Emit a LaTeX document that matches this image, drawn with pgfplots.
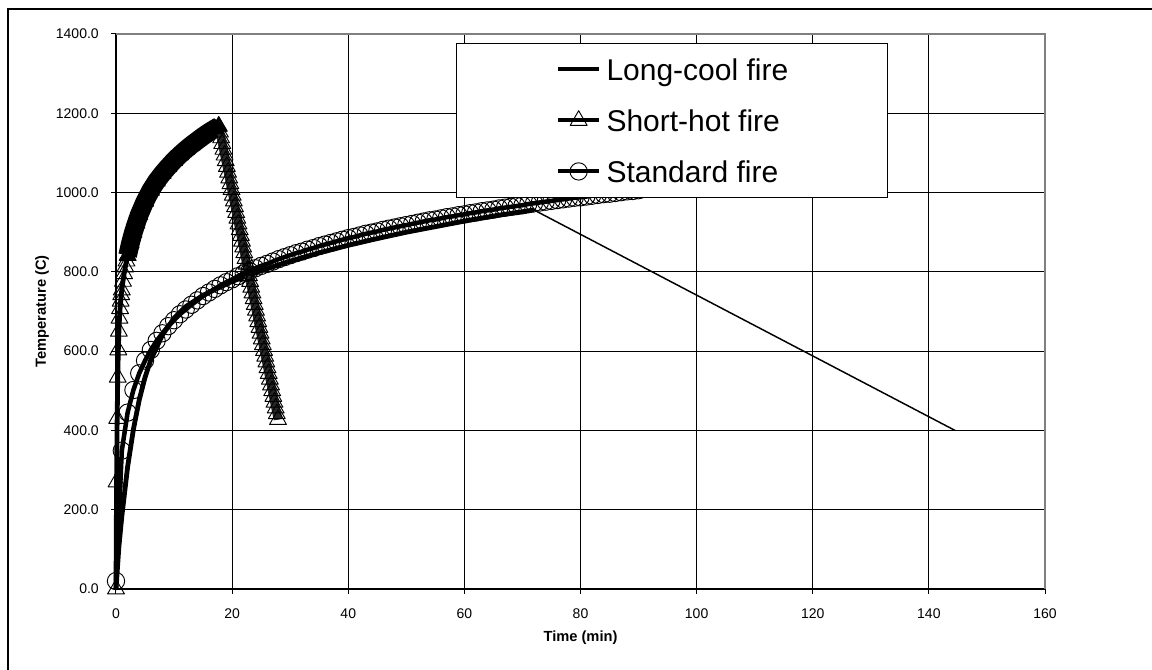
\documentclass[border=0pt]{standalone}
\usepackage{pgfplots}
\pgfplotsset{compat=1.18}
\usepackage{fontspec}
\setmainfont{Liberation Sans}
\begin{document}
\begin{tikzpicture}
\useasboundingbox (-87pt,-60.75pt) rectangle (777pt,441.75pt);
\begin{axis}[
  at={(0pt,0pt)}, anchor=south west,
  scale only axis, width=696.75pt, height=416.25pt,
  xmin=0, xmax=160, ymin=0, ymax=1400,
  xtick={0,20,...,160}, ytick={0,200,...,1400},
  axis x line*=bottom, axis y line*=left,
  axis line style={black, line width=0.75pt},
  grid=major, major grid style={black, line width=0.6pt},
  tick align=outside, major tick length=3.75pt,
  tick style={black, line width=0.75pt},
  clip=false,
  /pgf/number format/assume math mode=true,
  tick label style={font=\fontsize{10.5}{12}\selectfont},
  yticklabel style={/pgf/number format/fixed, /pgf/number format/fixed zerofill,
    /pgf/number format/precision=1, /pgf/number format/1000 sep={},
    anchor=east, inner sep=0pt, xshift=-9pt},
  xticklabel style={anchor=center, inner sep=0pt, yshift=-15pt},
  xlabel={Time (min)}, ylabel={Temperature (C)},
  every axis x label/.style={at={(rel axis cs:0.5,0)}, yshift=-36.75pt, anchor=center,
    font=\bfseries\fontsize{11}{13}\selectfont},
  every axis y label/.style={at={(rel axis cs:0,0.5)}, xshift=-55.5pt, rotate=90, anchor=center,
    font=\bfseries\fontsize{11}{13}\selectfont},
  legend style={at={(rel axis cs:0.36598,0.98378)}, anchor=north west,
    draw=black, line width=0.75pt, fill=white,
    inner xsep=74.75pt, inner ysep=10.7pt, row sep=20.75pt, column sep=4pt,
    font=\fontsize{22.5}{27}\selectfont,
    nodes={inner sep=0pt, text height=17pt, text depth=0.5pt},
    cells={anchor=west}},
  legend image code/.code={\draw[mark repeat=2,mark phase=2,#1,line width=3pt] plot coordinates {(0pt,0pt) (15.375pt,0pt) (30.75pt,0pt)};},
]
% Long-cool fire (heating)
\addplot[black, line width=3.6pt, line join=round] coordinates {
(0,0) (0.5,107) (1,183) (2,308) (3,403) (4,477) (5,534) (6,578) (8,641) (10,683)
(12,712) (15,741) (20,776) (25,803) (30,827) (35,848) (40,867) (45,884) (50,900)
(55,914) (60,928) (66,943) (72,956)};
\addlegendentry{Long-cool fire}
% Long-cool fire (decay)
\addplot[black, line width=1.1pt, forget plot] coordinates {(72,956) (144.5,400)};
% Short-hot fire
\addplot[black, line width=3.6pt, line join=round, mark=triangle, mark size=7.3pt,
  mark options={solid, line width=0.7pt}] coordinates {
(0,0) (0.1,270) (0.2,430) (0.3,534) (0.4,603) (0.5,650) (0.6,683) (0.7,707) (0.8,726)
(0.9,742) (1.0,754) (1.2,776) (1.4,795) (1.6,812) (1.8,827) (2.0,841) (2.5,873)
(3,900) (3.5,923) (4,944) (5,978) (6,1006) (7,1029) (8,1048) (9,1065) (10,1081)
(11,1095) (12,1108) (13,1120) (14,1131) (15,1142) (16,1152) (17,1161) (17.7,1167)
(17.9,1152.5) (18.1,1138) (18.3,1123.5) (18.5,1109) (18.7,1094.5) (18.9,1080)
(19.1,1065.5) (19.3,1051) (19.5,1036.5) (19.7,1022) (19.9,1007.5) (20.1,993)
(20.3,978.5) (20.5,964) (20.7,949.5) (20.9,935) (21.1,920.5) (21.3,906) (21.5,891.5)
(21.7,877) (21.9,862.5) (22.1,848) (22.3,833.5) (22.5,819) (22.7,804.5) (22.9,790)
(23.1,775.5) (23.3,761) (23.5,746.5) (23.7,732) (23.9,717.5) (24.1,703) (24.3,688.5)
(24.5,674) (24.7,659.5) (24.9,645) (25.1,630.5) (25.3,616) (25.5,601.5) (25.7,587)
(25.9,572.5) (26.1,558) (26.3,543.5) (26.5,529) (26.7,514.5) (26.9,500) (27.1,485.5)
(27.3,471) (27.5,456.5) (27.7,442) (27.9,427.5)};
\addlegendentry{Short-hot fire}
% dense band of the short-hot heating phase
\addplot[black, line width=14pt, line join=round, forget plot, mark=triangle*, mark size=7.3pt,
  mark options={fill=black, line width=0.5pt}] coordinates {
(2.0,841) (2.5,873) (3,900) (3.5,923) (4,944) (5,978) (6,1006) (7,1029) (8,1048)
(9,1065) (10,1081) (11,1095) (12,1108) (13,1120) (14,1131) (15,1142) (16,1152)
(17,1161) (17.7,1167)};
% dense band of the short-hot decay phase
\addplot[black!85, line width=6.5pt, forget plot] coordinates {
(17.7,1167) (18.9,1080) (20.1,993) (21.3,906) (22.5,819) (23.7,732) (24.9,645)
(26.1,558) (27.3,471) (27.9,427.5)};
% Standard fire
\addplot[black, line width=3.4pt, line join=round, mark=o, mark size=6.5pt,
  mark options={solid, line width=0.7pt}] coordinates {
(0,20) (1,349) (2,445) (3,502) (4,544) (5,576) (6,603) (7,626) (8,645) (9,663)
(10,678) (11,693) (12,705) (13,717) (14,728) (15,739) (16,748) (17,757) (18,766)
(19,774) (20,781) (21,789) (22,796) (23,802) (24,809) (25,815) (26,820) (27,826)
(28,832) (29,837) (30,842) (31,847) (32,851) (33,856) (34,860) (35,865) (36,869)
(37,873) (38,877) (39,881) (40,885) (41,888) (42,892) (43,896) (44,899) (45,902)
(46,906) (47,909) (48,912) (49,915) (50,918) (51,921) (52,924) (53,927) (54,930)
(55,932) (56,935) (57,938) (58,940) (59,943) (60,945) (61,948) (62,950) (63,953)
(64,955) (65,957) (66,960) (67,962) (68,964) (69,966) (70,968) (71,971) (72,973)
(73,975) (74,977) (75,979) (76,981) (77,983) (78,985) (79,987) (80,988) (81,990)
(82,992) (83,994) (84,996) (85,997) (86,999) (87,1001) (88,1003) (89,1004) (90,1006)};
\addlegendentry{Standard fire}
\draw[gray, line width=0.9pt] (rel axis cs:0,1) -- (rel axis cs:1,1) -- (rel axis cs:1,0);
\end{axis}
\draw[black, line width=1.5pt] (-81pt,-60.75pt) -- (-81pt,435pt) -- (777pt,435pt);
\end{tikzpicture}
\end{document}
